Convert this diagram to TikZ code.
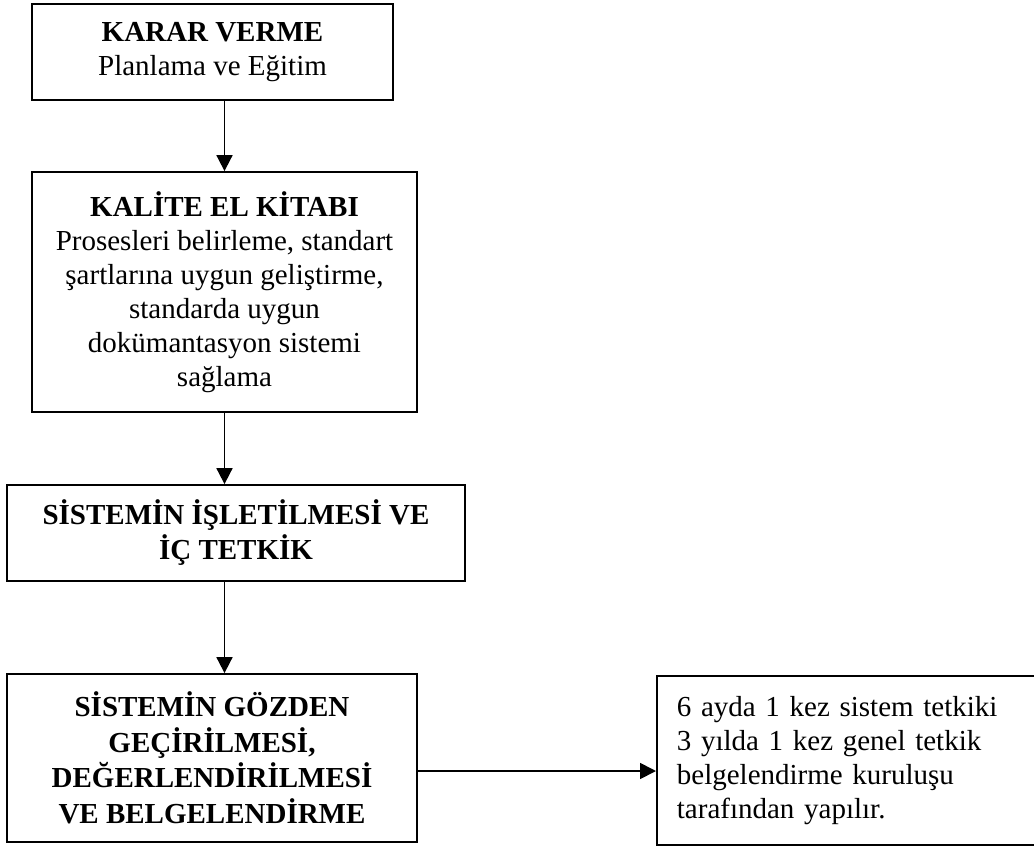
\documentclass[tikz,border=0pt]{standalone}
\usepackage{fontspec}
\setmainfont{Liberation Serif}
\usetikzlibrary{arrows.meta}
\begin{document}
\begin{tikzpicture}[x=1pt,y=-1pt,
  box/.style={draw, line width=1.8pt, rectangle, inner sep=0pt, align=center,
    font=\fontsize{29}{34}\selectfont},
  flow/.style={line width=1.8pt, -{Triangle[length=16pt,width=16pt]}}]
\useasboundingbox (0,0) rectangle (1034,849);

% process steps
\node[box, minimum width=361pt, minimum height=96pt] (decide) at (212.5,52)
  {\textbf{KARAR VERME}\\Planlama ve Eğitim};
\node[box, minimum width=385pt, minimum height=240pt] (manual) at (224.5,292)
  {\textbf{KALİTE EL KİTABI}\\Prosesleri belirleme, standart\\şartlarına uygun geliştirme,\\standarda uygun\\dokümantasyon sistemi\\sağlama};
\node[box, minimum width=458pt, minimum height=96pt,
  font=\fontsize{29}{35}\selectfont\bfseries] (audit) at (236,533)
  {SİSTEMİN İŞLETİLMESİ VE\\İÇ TETKİK};
\node[box, minimum width=410pt, minimum height=168pt,
  font=\fontsize{29}{35.5}\selectfont\bfseries] (review) at (212,758)
  {SİSTEMİN GÖZDEN\\GEÇİRİLMESİ,\\DEĞERLENDİRİLMESİ\\VE BELGELENDİRME};
\node[box, anchor=west, align=left, text width=400pt, inner xsep=20pt,
  minimum height=169pt] (note) at (656,760.5)
  {6 ayda 1 kez sistem tetkiki\\3 yılda 1 kez genel tetkik\\belgelendirme kuruluşu\\tarafından yapılır.};

% connectors
\draw[flow] (decide.south -| manual.north) -- (manual.north);
\draw[flow] (manual.south) -- (manual.south |- audit.north);
\draw[flow] (audit.south -| manual.south) -- (review.north -| manual.south);
\draw[flow] ([yshift=-13pt]review.east) -- ([yshift=-13pt]review.east -| note.west);
\end{tikzpicture}
\end{document}
